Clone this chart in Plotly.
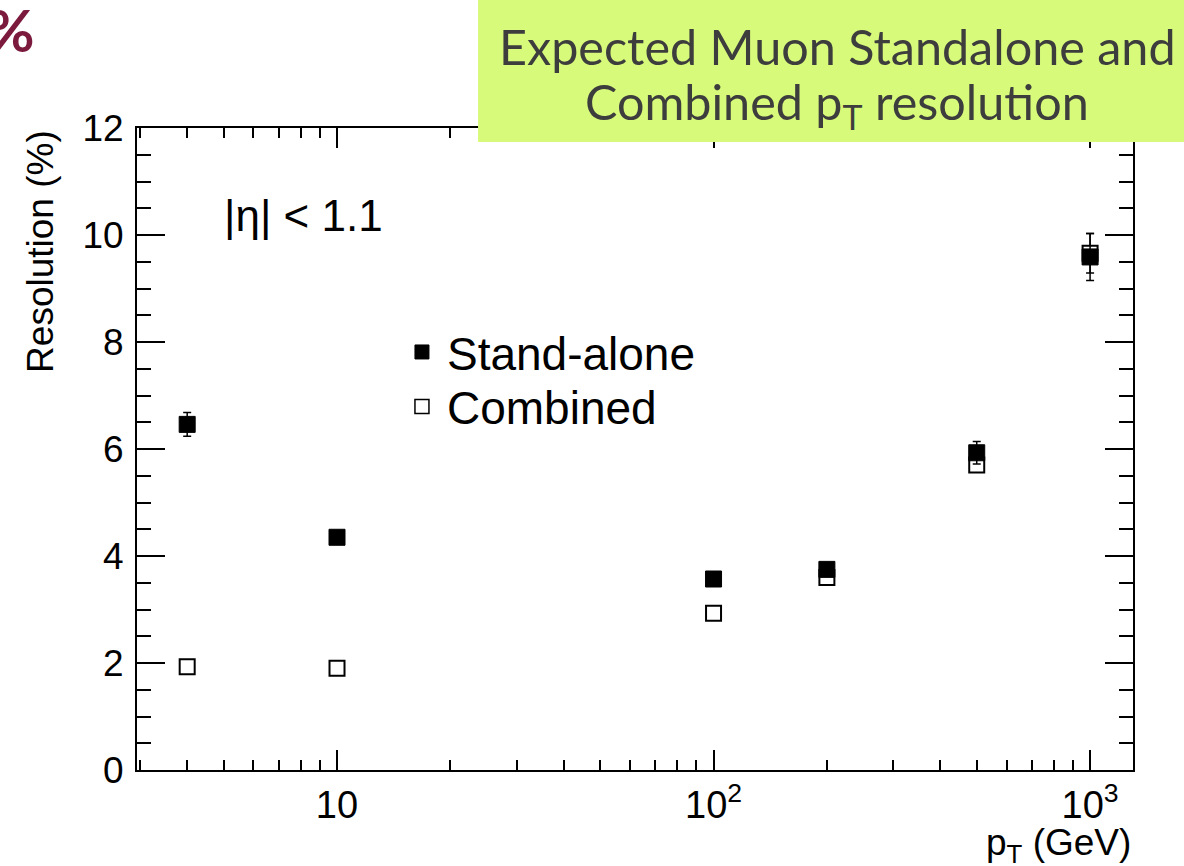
import plotly.graph_objects as go

# Muon pT points (GeV) and resolution in percent
pt = [4, 10, 100, 200, 500, 1000]
standalone = [6.46, 4.35, 3.57, 3.75, 5.93, 9.59]
standalone_err = [0.22, 0.08, 0.06, 0.08, 0.21, 0.44]
combined = [1.93, 1.90, 2.93, 3.60, 5.70, 9.66]
combined_err = [0.05, 0.05, 0.05, 0.06, 0.10, 0.37]

x_tickvals = [10, 100, 1000]
x_ticktext = ["10", "10<sup>2</sup>", "10<sup>3</sup>"]
x_minor = [3, 4, 5, 6, 7, 8, 9, 20, 30, 40, 50, 60, 70, 80, 90,
           200, 300, 400, 500, 600, 700, 800, 900]

FONT = "Liberation Sans, Arial, Helvetica, sans-serif"
TITLE_FONT = "Gill Sans, Lato, sans-serif"

fig = go.Figure()

# combined first, stand-alone drawn over it
fig.add_trace(go.Scatter(
    x=pt, y=combined, mode="markers", showlegend=False,
    marker=dict(symbol="square", size=15, color="white",
                line=dict(color="black", width=2)),
    error_y=dict(type="data", array=combined_err, color="black",
                 thickness=1.5, width=4),
))
fig.add_trace(go.Scatter(
    x=pt, y=standalone, mode="markers", showlegend=False,
    marker=dict(symbol="square", size=16, color="black",
                line=dict(color="black", width=1)),
    error_y=dict(type="data", array=standalone_err, color="black",
                 thickness=1.5, width=4),
))

# legend entries, one per legend box so each row can be placed
fig.add_trace(go.Scatter(
    x=[None], y=[None], mode="markers", name="Stand-alone",
    legend="legend",
    marker=dict(symbol="square", size=14, color="black",
                line=dict(color="black", width=1)),
))
fig.add_trace(go.Scatter(
    x=[None], y=[None], mode="markers", name="Combined",
    legend="legend2",
    marker=dict(symbol="square", size=14, color="white",
                line=dict(color="black", width=1.5)),
))

axis_common = dict(
    showline=True, linecolor="black", linewidth=2,
    mirror="ticks", ticks="inside", tickcolor="black", tickwidth=2,
    showgrid=False, zeroline=False,
)

fig.update_xaxes(
    type="log", range=[0.4688, 3.114],
    tickmode="array", tickvals=x_tickvals, ticktext=x_ticktext,
    ticklen=20, ticklabelstandoff=0,
    tickfont=dict(family=FONT, size=38, color="black"),
    minor=dict(tickmode="array", tickvals=x_minor, ticks="inside",
               ticklen=10, tickwidth=2, tickcolor="black", showgrid=False),
    **axis_common,
)
fig.update_yaxes(
    range=[0, 12], tickmode="linear", tick0=0, dtick=2,
    ticklen=28, ticklabelstandoff=4,
    tickfont=dict(family=FONT, size=37, color="black"),
    minor=dict(dtick=0.5, ticks="inside", ticklen=14, tickwidth=2,
               tickcolor="black", showgrid=False),
    **axis_common,
)

# highlighted title panel
fig.add_shape(type="rect", xref="paper", yref="paper",
              x0=0.3424, x1=1.06, y0=0.978, y1=1.21,
              fillcolor="#d7fa7b", line=dict(width=0), layer="above")

annotations = [
    dict(text="Expected Muon Standalone and", x=0.703, y=1.127,
         font=dict(family=TITLE_FONT, size=48.5, color="#3d3d3d")),
    dict(text="Combined p<sub>T</sub> resolution", x=0.703, y=1.036,
         font=dict(family=TITLE_FONT, size=48.5, color="#3d3d3d")),
    dict(text="<b>%</b>", x=-0.1, y=1.153, xanchor="right",
         font=dict(family=TITLE_FONT, size=58, color="#7b1a3d")),
    dict(text="|η| < 1.1", x=0.0853, y=0.864, xanchor="left",
         font=dict(family=FONT, size=44, color="black")),
    dict(text="Resolution (%)", x=-0.097, y=1.0, yanchor="top",
         textangle=-90, font=dict(family=FONT, size=37, color="black")),
    dict(text="p<sub>T</sub> (GeV)", x=1.0, y=-0.117, xanchor="right",
         font=dict(family=FONT, size=37, color="black")),
]
for a in annotations:
    a.setdefault("xanchor", "center")
    a.setdefault("yanchor", "middle")
    fig.add_annotation(xref="paper", yref="paper", showarrow=False, **a)

legend_style = dict(xanchor="left", yanchor="middle", itemwidth=40,
                    bgcolor="rgba(0,0,0,0)", borderwidth=0,
                    font=dict(family=FONT, size=46, color="black"))

fig.update_layout(
    width=1184, height=866,
    margin=dict(l=137, r=51, t=128, b=96),
    paper_bgcolor="white", plot_bgcolor="white",
    legend=dict(x=0.2610, y=0.651, **legend_style),
    legend2=dict(x=0.2610, y=0.566, **legend_style),
)

fig.write_html("out.html")
